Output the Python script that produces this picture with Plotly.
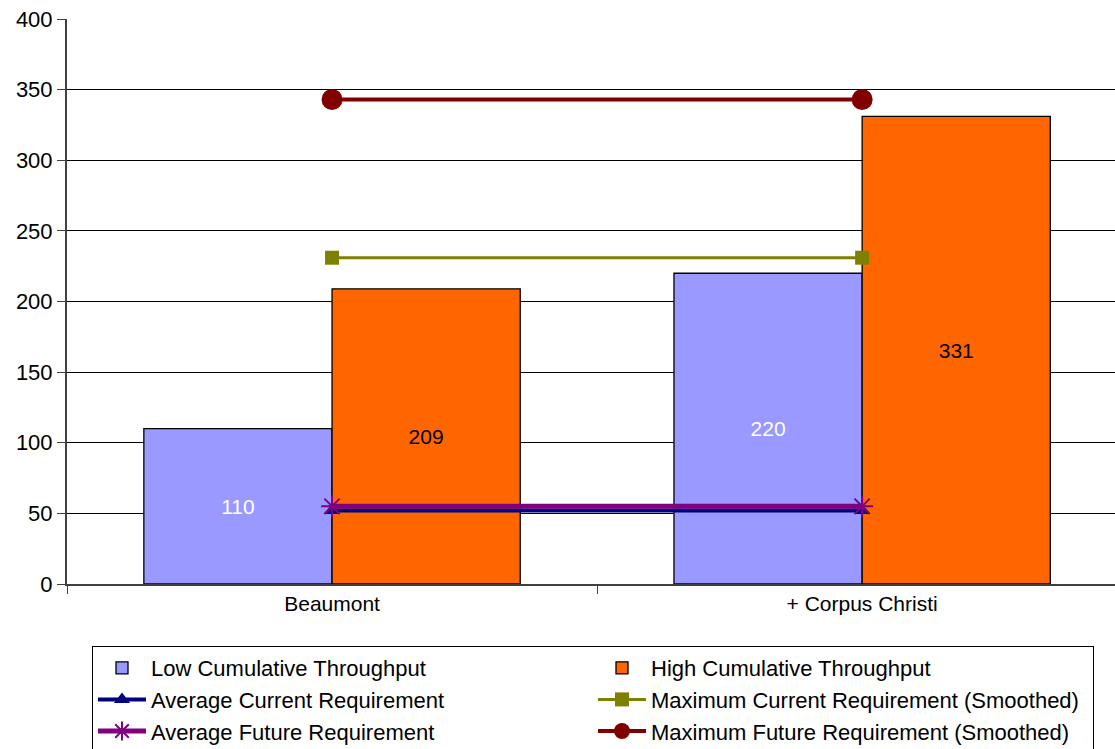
import plotly.graph_objects as go

# Refinery locations (cumulative)
categories = ["Beaumont", "+ Corpus Christi"]

# Throughput capacity bars
low_throughput = [110, 220]
high_throughput = [209, 331]

# Requirement lines
avg_current_req = [52, 52]
max_current_req = [231, 231]
avg_future_req = [55, 55]
max_future_req = [343, 343]

FONT = "Liberation Sans, Arial, sans-serif"

fig = go.Figure()

fig.add_trace(go.Bar(
    name="Low Cumulative Throughput", x=categories, y=low_throughput,
    marker=dict(color="#9999FF", line=dict(color="#000000", width=1.3)),
    texttemplate="%{y}", textposition="inside", insidetextanchor="middle",
    textangle=0, textfont=dict(color="#FFFFFF", size=21, family=FONT),
))
fig.add_trace(go.Bar(
    name="High Cumulative Throughput", x=categories, y=high_throughput,
    marker=dict(color="#FF6600", line=dict(color="#000000", width=1.3)),
    texttemplate="%{y}", textposition="inside", insidetextanchor="middle",
    textangle=0, textfont=dict(color="#000000", size=21, family=FONT),
))
fig.add_trace(go.Scatter(
    name="Average Current Requirement", x=categories, y=avg_current_req,
    mode="lines+markers", line=dict(color="#000080", width=4),
    marker=dict(symbol="triangle-up", size=14, color="#000080"),
))
fig.add_trace(go.Scatter(
    name="Maximum Current Requirement (Smoothed)", x=categories, y=max_current_req,
    mode="lines+markers", line=dict(color="#808000", width=3),
    marker=dict(symbol="square", size=14, color="#808000"),
))
fig.add_trace(go.Scatter(
    name="Average Future Requirement", x=categories, y=avg_future_req,
    mode="lines+markers", line=dict(color="#800080", width=5),
    marker=dict(symbol="asterisk-open", size=18, color="#800080",
                line=dict(color="#800080", width=2)),
))
fig.add_trace(go.Scatter(
    name="Maximum Future Requirement (Smoothed)", x=categories, y=max_future_req,
    mode="lines+markers", line=dict(color="#800000", width=4),
    marker=dict(symbol="circle", size=21, color="#800000"),
))

fig.update_layout(
    width=1115, height=749,
    margin=dict(l=67, r=0, t=19, b=165),
    paper_bgcolor="#FFFFFF", plot_bgcolor="#FFFFFF",
    font=dict(family=FONT, size=21, color="#000000"),
    barmode="group", bargap=0.29, bargroupgap=0,
    showlegend=True,
    legend=dict(
        orientation="h", xref="container", yref="container",
        x=92 / 1115, y=1 - 646 / 749, xanchor="left", yanchor="top",
        entrywidth=437, entrywidthmode="pixels", itemwidth=48,
        bordercolor="#000000", borderwidth=1, bgcolor="#FFFFFF",
        font=dict(family=FONT, size=22, color="#000000"),
        traceorder="normal",
    ),
)

fig.update_xaxes(
    type="category", range=[-0.5, 1.477],
    showline=True, linecolor="#404040", linewidth=2,
    ticks="outside", tickson="boundaries", ticklen=8, tickcolor="#404040",
    showgrid=False, tickfont=dict(size=21, family=FONT),
)
fig.update_yaxes(
    range=[0, 400], dtick=50,
    showline=True, linecolor="#404040", linewidth=2,
    ticks="outside", ticklen=8, tickcolor="#404040",
    showgrid=True, gridcolor="#000000", gridwidth=1, zeroline=False,
    tickfont=dict(size=22, family=FONT),
)

fig.write_html("out.html")
